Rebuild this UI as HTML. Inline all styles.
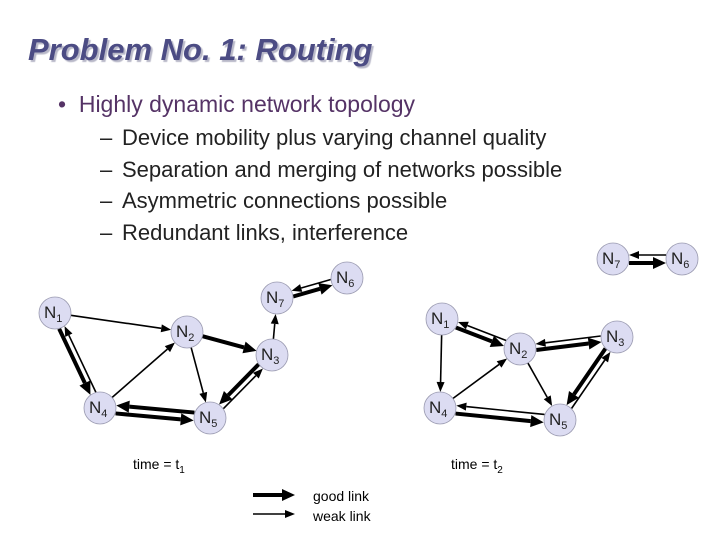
<!DOCTYPE html>
<html><head><meta charset="utf-8"><style>
body{margin:0;width:720px;height:540px;background:#fff;overflow:hidden;position:relative;font-family:"Liberation Sans",sans-serif}
.t{position:absolute;left:28px;top:32px;font-size:31px;font-weight:bold;font-style:italic;color:#4c4c84;text-shadow:2px 2px 1px #b8b8c8;line-height:36px}
.b{position:absolute;left:58px;top:90px;font-size:23px;color:#553366;line-height:28px}
.s{position:absolute;left:100px;font-size:22px;color:#222;line-height:26px}
.s span{display:inline-block;width:22px}
</style></head><body>
<div class="t">Problem No. 1: Routing</div>
<div class="b">•&nbsp;&nbsp;Highly dynamic network topology</div>
<div class="s" style="top:125px"><span>–</span>Device mobility plus varying channel quality</div>
<div class="s" style="top:157px"><span>–</span>Separation and merging of networks possible</div>
<div class="s" style="top:188px"><span>–</span>Asymmetric connections possible</div>
<div class="s" style="top:220px"><span>–</span>Redundant links, interference</div>
<svg id="g" width="720" height="540" style="position:absolute;left:0;top:0" font-family="Liberation Sans, sans-serif"></svg>
<script>
var L={1:[55,313],2:[187,332],3:[272,355],7:[277,298],6:[347,278],4:[100,408],5:[210,418]};
var R={7:[613,259],6:[682,259],1:[442,319],2:[520,349],3:[617,337],4:[440,408],5:[560,420]};
var s='';
function e(P,a,b,good,off){var A=P[a],B=P[b];var dx=B[0]-A[0],dy=B[1]-A[1],d=Math.hypot(dx,dy),ux=dx/d,uy=dy/d,nx=-uy*off,ny=ux*off;
var r=16,x1=A[0]+ux*r+nx,y1=A[1]+uy*r+ny,x2=B[0]-ux*r+nx,y2=B[1]-uy*r+ny;
var w=good?4:1.6,h=good?13:10,hw=good?6:4;var bx=x2-ux*h,by=y2-uy*h;
s+='<line x1="'+x1+'" y1="'+y1+'" x2="'+bx+'" y2="'+by+'" stroke="#000" stroke-width="'+w+'"/>';
s+='<polygon points="'+x2+','+y2+' '+(bx-uy*hw)+','+(by+ux*hw)+' '+(bx+uy*hw)+','+(by-ux*hw)+'" fill="#000"/>';}
e(L,1,2,0,0);e(L,1,4,1,3);e(L,4,1,0,3);e(L,4,2,0,0);e(L,2,3,1,0);e(L,2,5,0,0);
e(L,3,5,1,3);e(L,5,3,0,3);e(L,5,4,1,4);e(L,4,5,1,4);e(L,3,7,0,0);e(L,7,6,1,3);e(L,6,7,0,3);
e(R,7,6,1,4);e(R,6,7,0,4);e(R,1,2,1,3);e(R,2,1,0,3);e(R,1,4,0,0);e(R,4,2,0,0);e(R,2,3,1,3);e(R,3,2,0,3);
e(R,2,5,0,0);e(R,3,5,1,3);e(R,5,3,0,3);e(R,5,4,0,4);e(R,4,5,1,4);
function n(P){for(var k in P){var p=P[k];s+='<circle cx="'+p[0]+'" cy="'+p[1]+'" r="16" fill="#dcdcf2" stroke="#9a9ab0" stroke-width="0.8"/>';
s+='<text x="'+(p[0]-11)+'" y="'+(p[1]+5)+'" font-size="17" fill="#222">N<tspan font-size="11" dy="4">'+k+'</tspan></text>';}}
n(L);n(R);
s+='<text x="133" y="469" font-size="14" fill="#000">time = t<tspan font-size="10" dy="4">1</tspan></text>';
s+='<text x="451" y="469" font-size="14" fill="#000">time = t<tspan font-size="10" dy="4">2</tspan></text>';
s+='<line x1="253" y1="495" x2="283" y2="495" stroke="#000" stroke-width="4"/><polygon points="295,495 282,489 282,501" fill="#000"/>';
s+='<line x1="253" y1="514" x2="285" y2="514" stroke="#000" stroke-width="1.6"/><polygon points="295,514 285,510 285,518" fill="#000"/>';
s+='<text x="313" y="501" font-size="14">good link</text><text x="313" y="521" font-size="14">weak link</text>';
document.getElementById('g').innerHTML=s;
</script>
</body></html>
